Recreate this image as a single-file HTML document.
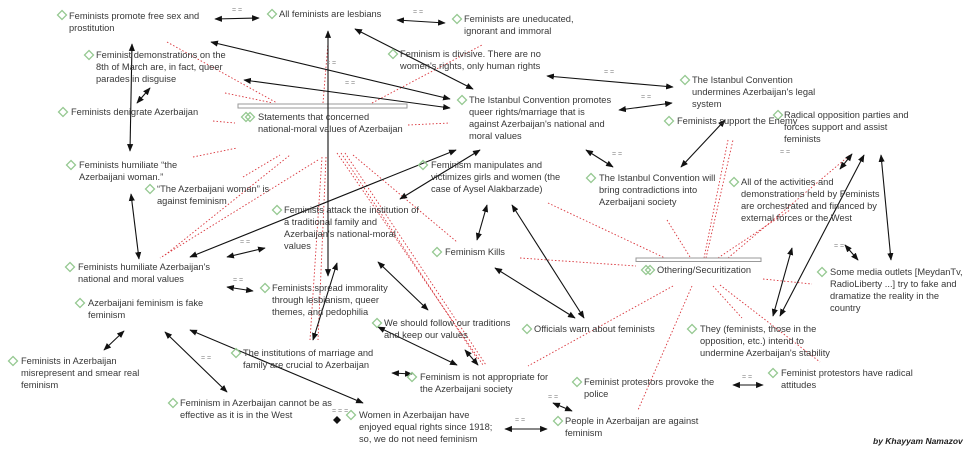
<!DOCTYPE html>
<html><head><meta charset="utf-8"><style>
html,body{margin:0;padding:0;background:#fff;}
svg{display:block;}
text{font-family:"Liberation Sans",sans-serif;font-size:9.3px;fill:#383838;}
.eq{font-size:7px;fill:#888;}
.d{fill:none;stroke:#96c992;stroke-width:1.3;}
.a{stroke:#111;stroke-width:1.1;fill:none;marker-start:url(#m);marker-end:url(#m);}
.r{stroke:#d9333a;stroke-width:0.9;stroke-dasharray:1.5,2;fill:none;}
</style></head><body>
<svg width="980" height="457" viewBox="0 0 980 457" xmlns="http://www.w3.org/2000/svg">
<defs>
<marker id="m" viewBox="0 0 10 10" refX="9" refY="5" markerWidth="7" markerHeight="7" orient="auto-start-reverse"><path d="M0,1 L10,5 L0,9 Z" fill="#111"/></marker>
<g id="dm"><path class="d" d="M0,-4.5 L4.5,0 L0,4.5 L-4.5,0 Z"/></g>
</defs>

<g class="r">
<path d="M167,42 L277,103"/><path d="M225,93 L273,103"/><path d="M213,121 L235,123"/>
<path d="M193,157 L237,148"/><path d="M243,177 L280,155"/><path d="M165,255 L290,155"/>
<path d="M323,103 L328,43"/><path d="M372,103 L482,45"/><path d="M408,125 L450,123"/>
<path d="M353,155 L457,242"/><path d="M337,153 L483,365"/><path d="M341,153 L478,360"/><path d="M345,153 L486,365"/>
<path d="M322,157 L310,340"/><path d="M326,157 L318,340"/><path d="M318,160 L160,258"/>
</g>
<g class="r">
<path d="M548,203 L665,258"/><path d="M520,258 L636,266"/><path d="M667,220 L690,257"/>
<path d="M706,258 L733,140"/><path d="M704,258 L728,140"/><path d="M718,258 L790,210"/><path d="M728,258 L850,155"/>
<path d="M763,279 L812,284"/>
<path d="M673,286 L528,366"/><path d="M692,286 L638,410"/><path d="M713,286 L742,318"/><path d="M720,285 L820,362"/>
</g>

<rect x="238" y="104" width="169" height="4" fill="#fff" stroke="#999" stroke-width="1"/>
<rect x="636" y="258" width="125" height="3.5" fill="#fff" stroke="#999" stroke-width="1"/>

<g class="a">
<path d="M215,19 L259,18"/><path d="M397,20 L445,23"/>
<path d="M211,42 L450,99"/><path d="M244,80 L450,108"/><path d="M355,29 L473,89"/>
<path d="M328,31 L328,276"/>
<path d="M132,44 L130,151"/><path d="M137,103 L150,88"/>
<path d="M131,194 L139,259"/>
<path d="M190,257 L456,150"/><path d="M400,199 L480,150"/>
<path d="M227,257 L265,248"/><path d="M227,287 L253,291"/>
<path d="M337,263 L313,340"/><path d="M378,262 L428,310"/>
<path d="M487,205 L477,240"/>
<path d="M512,205 L584,318"/><path d="M495,268 L575,318"/>
<path d="M104,350 L124,331"/>
<path d="M165,332 L227,392"/><path d="M190,330 L363,403"/>
<path d="M378,327 L457,365"/><path d="M465,350 L478,365"/>
<path d="M392,373 L412,374"/><path d="M505,429 L547,429"/>
<path d="M553,403 L572,411"/><path d="M733,385 L763,385"/>
<path d="M547,76 L673,87"/><path d="M619,110 L672,103"/>
<path d="M586,150 L613,167"/><path d="M725,120 L681,167"/>
<path d="M852,154 L840,169"/><path d="M864,155 L780,316"/><path d="M792,248 L773,316"/>
<path d="M881,155 L891,260"/><path d="M845,245 L858,260"/>
</g>
<path d="M337,416 L341,420 L337,424 L333,420 Z" fill="#111"/>

<g class="eq">
<text x="232" y="12" class="eq">= =</text><text x="413" y="14" class="eq">= =</text>
<text x="326" y="65" class="eq">= =</text><text x="345" y="85" class="eq">= =</text>
<text x="604" y="74" class="eq">= =</text><text x="641" y="99" class="eq">= =</text>
<text x="240" y="244" class="eq">= =</text><text x="233" y="282" class="eq">= =</text>
<text x="742" y="379" class="eq">= =</text><text x="515" y="422" class="eq">= =</text>
<text x="332" y="413" class="eq">= = =</text><text x="548" y="399" class="eq">= =</text>
<text x="201" y="360" class="eq">= =</text><text x="612" y="156" class="eq">= =</text>
<text x="834" y="248" class="eq">= =</text><text x="780" y="154" class="eq">= =</text>
</g>

<use href="#dm" x="62" y="15"/><text x="69" y="19">Feminists promote free sex and<tspan x="69" dy="12">prostitution</tspan></text>
<use href="#dm" x="272" y="14"/><text x="279" y="17">All feminists are lesbians</text>
<use href="#dm" x="457" y="19"/><text x="464" y="22">Feminists are uneducated,<tspan x="464" dy="12">ignorant and immoral</tspan></text>
<use href="#dm" x="89" y="55"/><text x="96" y="58">Feminist demonstrations on the<tspan x="96" dy="12">8th of March are, in fact, queer</tspan><tspan x="96" dy="12">parades in disguise</tspan></text>
<use href="#dm" x="393" y="54"/><text x="400" y="57">Feminism is divisive. There are no<tspan x="400" dy="12">women's rights, only human rights</tspan></text>
<use href="#dm" x="685" y="80"/><text x="692" y="83">The Istanbul Convention<tspan x="692" dy="12">undermines Azerbaijan's legal</tspan><tspan x="692" dy="12">system</tspan></text>
<use href="#dm" x="63" y="112"/><text x="71" y="115">Feminists denigrate Azerbaijan</text>
<use href="#dm" x="462" y="100"/><text x="469" y="103">The Istanbul Convention promotes<tspan x="469" dy="12">queer rights/marriage that is</tspan><tspan x="469" dy="12">against Azerbaijan's national and</tspan><tspan x="469" dy="12">moral values</tspan></text>
<use href="#dm" x="246" y="117"/><use href="#dm" x="250" y="117"/><text x="258" y="120">Statements that concerned<tspan x="258" dy="12">national-moral values of Azerbaijan</tspan></text>
<use href="#dm" x="778" y="115"/><text x="784" y="118">Radical opposition parties and<tspan x="784" dy="12">forces support and assist</tspan><tspan x="784" dy="12">feminists</tspan></text>
<use href="#dm" x="669" y="121"/><text x="677" y="124">Feminists support the Enemy</text>
<use href="#dm" x="71" y="165"/><text x="79" y="168">Feminists humiliate “the<tspan x="79" dy="12">Azerbaijani woman.”</tspan></text>
<use href="#dm" x="423" y="165"/><text x="431" y="168">Feminism manipulates and<tspan x="431" dy="12">victimizes girls and women (the</tspan><tspan x="431" dy="12">case of Aysel Alakbarzade)</tspan></text>
<use href="#dm" x="150" y="189"/><text x="157" y="192">“The Azerbaijani woman” is<tspan x="157" dy="12">against feminism</tspan></text>
<use href="#dm" x="591" y="178"/><text x="599" y="181">The Istanbul Convention will<tspan x="599" dy="12">bring contradictions into</tspan><tspan x="599" dy="12">Azerbaijani society</tspan></text>
<use href="#dm" x="734" y="182"/><text x="741" y="185">All of the activities and<tspan x="741" dy="12">demonstrations held by Feminists</tspan><tspan x="741" dy="12">are orchestrated and financed by</tspan><tspan x="741" dy="12">external forces or the West</tspan></text>
<use href="#dm" x="277" y="210"/><text x="284" y="213">Feminists attack the institution of<tspan x="284" dy="12">a traditional family and</tspan><tspan x="284" dy="12">Azerbaijan's national-moral</tspan><tspan x="284" dy="12">values</tspan></text>
<use href="#dm" x="437" y="252"/><text x="445" y="255">Feminism Kills</text>
<use href="#dm" x="646" y="270"/><use href="#dm" x="650" y="270"/><text x="657" y="273">Othering/Securitization</text>
<use href="#dm" x="70" y="267"/><text x="78" y="270">Feminists humiliate Azerbaijan's<tspan x="78" dy="12">national and moral values</tspan></text>
<use href="#dm" x="822" y="272"/><text x="830" y="275">Some media outlets [MeydanTv,<tspan x="830" dy="12">RadioLiberty ...] try to fake and</tspan><tspan x="830" dy="12">dramatize the reality in the</tspan><tspan x="830" dy="12">country</tspan></text>
<use href="#dm" x="265" y="288"/><text x="272" y="291">Feminists spread immorality<tspan x="272" dy="12">through lesbianism, queer</tspan><tspan x="272" dy="12">themes, and pedophilia</tspan></text>
<use href="#dm" x="80" y="303"/><text x="88" y="306">Azerbaijani feminism is fake<tspan x="88" dy="12">feminism</tspan></text>
<use href="#dm" x="377" y="323"/><text x="384" y="326">We should follow our traditions<tspan x="384" dy="12">and keep our values</tspan></text>
<use href="#dm" x="527" y="329"/><text x="534" y="332">Officials warn about feminists</text>
<use href="#dm" x="692" y="329"/><text x="700" y="332">They (feminists, those in the<tspan x="700" dy="12">opposition, etc.) intend to</tspan><tspan x="700" dy="12">undermine Azerbaijan's stability</tspan></text>
<use href="#dm" x="13" y="361"/><text x="21" y="364">Feminists in Azerbaijan<tspan x="21" dy="12">misrepresent and smear real</tspan><tspan x="21" dy="12">feminism</tspan></text>
<use href="#dm" x="236" y="353"/><text x="243" y="356">The institutions of marriage and<tspan x="243" dy="12">family are crucial to Azerbaijan</tspan></text>
<use href="#dm" x="412" y="377"/><text x="420" y="380">Feminism is not appropriate for<tspan x="420" dy="12">the Azerbaijani society</tspan></text>
<use href="#dm" x="577" y="382"/><text x="584" y="385">Feminist protestors provoke the<tspan x="584" dy="12">police</tspan></text>
<use href="#dm" x="773" y="373"/><text x="781" y="376">Feminist protestors have radical<tspan x="781" dy="12">attitudes</tspan></text>
<use href="#dm" x="173" y="403"/><text x="180" y="406">Feminism in Azerbaijan cannot be as<tspan x="180" dy="12">effective as it is in the West</tspan></text>
<use href="#dm" x="351" y="415"/><text x="359" y="418">Women in Azerbaijan have<tspan x="359" dy="12">enjoyed equal rights since 1918;</tspan><tspan x="359" dy="12">so, we do not need feminism</tspan></text>
<use href="#dm" x="558" y="421"/><text x="565" y="424">People in Azerbaijan are against<tspan x="565" dy="12">feminism</tspan></text>
<text x="873" y="444" style="font-weight:bold;font-style:italic;font-size:8.5px;fill:#222">by Khayyam Namazov</text>
</svg>
</body></html>
